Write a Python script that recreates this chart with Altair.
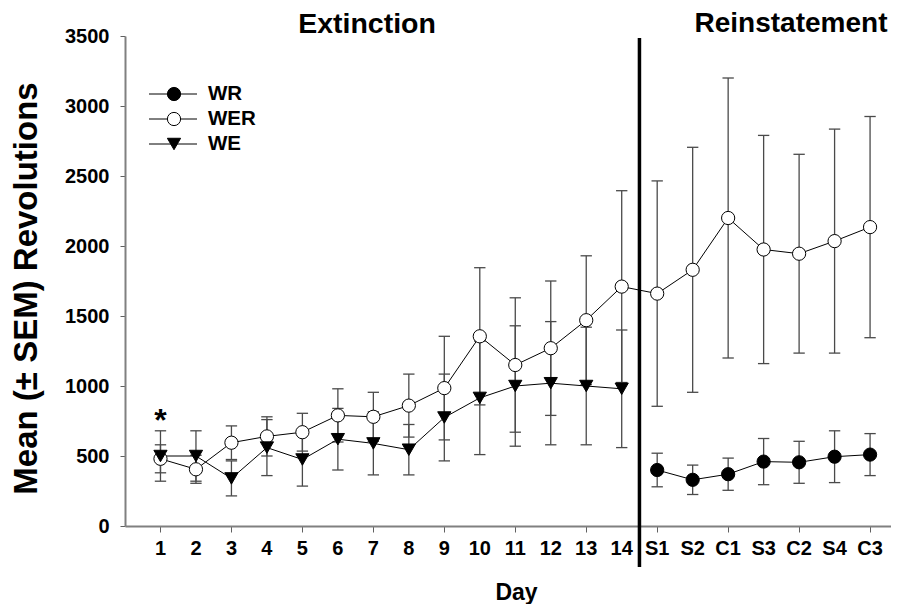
import altair as alt
import pandas as pd

# ---- data ----
labels = ['1', '2', '3', '4', '5', '6', '7', '8', '9', '10', '11', '12', '13', '14',
          'S1', 'S2', 'C1', 'S3', 'C2', 'S4', 'C3']
wer_mean = [480, 405, 595, 640, 670, 790, 780, 860, 985, 1355, 1150, 1270, 1470, 1710,
            1660, 1830, 2200, 1975, 1945, 2035, 2135]
wer_sem = [100, 100, 120, 140, 135, 190, 175, 225, 370, 490, 480, 480, 460, 685,
           805, 875, 1000, 815, 710, 800, 790]
we_mean = [500, 500, 340, 560, 475, 620, 590, 545, 775, 915, 1000, 1020, 1000, 980]
we_sem = [180, 180, 125, 200, 190, 220, 225, 180, 310, 405, 430, 440, 420, 420]
wr_mean = [400, 330, 370, 460, 455, 495, 510]
wr_sem = [120, 105, 115, 165, 150, 185, 150]
legend_names = ['WR', 'WER', 'WE']
groups = ['WR', 'WER', 'WE']
shapes = ['circle', 'circle', 'triangle-down']
fills = ['black', 'white', 'black']

rows = []
for i, lab in enumerate(labels):
    rows.append(dict(idx=i + 1, label=lab, group='WER', mean=wer_mean[i], sem=wer_sem[i]))
for i, m in enumerate(we_mean):
    rows.append(dict(idx=i + 1, label=labels[i], group='WE', mean=m, sem=we_sem[i]))
for i, m in enumerate(wr_mean):
    rows.append(dict(idx=15 + i, label=labels[14 + i], group='WR', mean=m, sem=wr_sem[i]))
df = pd.DataFrame(rows)
label_df = pd.DataFrame({'idx': list(range(1, len(labels) + 1)), 'label': labels})

FONT = 'Liberation Sans'
YTITLE = 'Mean (± SEM) Revolutions'
W, H = 766, 490

xscale = alt.Scale(domain=[-0.0, 21.59], nice=False, zero=False)
yscale = alt.Scale(domain=[0, 3500], nice=False)

x_axis = alt.Axis(values=list(range(1, 22)), labels=False,
                  grid=False, domainColor='#808080', domainWidth=2, tickColor='#606060',
                  tickSize=6,
                  titleFont=FONT, titleFontSize=23, titleFontWeight='bold',
                  titleColor='black', titleX=391, titleY=66, titleBaseline='middle')
y_axis = alt.Axis(values=list(range(0, 3501, 500)), format='d', grid=False,
                  domainColor='#808080', domainWidth=2, tickColor='#606060', tickSize=5,
                  labelFont=FONT, labelFontSize=20, labelFontWeight='bold',
                  labelColor='black', labelPadding=11, labelOverlap=False,
                  titleFont=FONT, titleFontSize=33, titleFontWeight='bold',
                  titleColor='black', titleAngle=-90, titleX=-99, titleY=H / 2 + 7,
                  titleAlign='center', titleBaseline='middle')

X = alt.X('idx:Q', scale=xscale, axis=x_axis, title='Day')

def Yq(field):
    return alt.Y(field, scale=yscale, axis=y_axis, title=YTITLE)

base = alt.Chart(df).transform_calculate(
    lo='datum.mean - datum.sem', hi='datum.mean + datum.sem',
    xl='datum.idx - 0.16', xr='datum.idx + 0.16')

err = base.mark_rule(color='#4a4a4a', strokeWidth=1.3).encode(
    x=X, y=Yq('lo:Q'), y2='hi:Q')

caps = base.transform_fold(['lo', 'hi'], as_=['end', 'val']).mark_rule(
    color='#4a4a4a', strokeWidth=1.3).encode(
    x=alt.X('xl:Q', scale=xscale, axis=x_axis, title='Day'), x2='xr:Q',
    y=Yq('val:Q'))

lines = alt.Chart(df).mark_line(color='black', strokeWidth=1).encode(
    x=X, y=Yq('mean:Q'), detail='group:N', order='idx:Q')

pts = alt.Chart(df).mark_point(filled=True, size=175, stroke='black', strokeWidth=1,
                               opacity=1).encode(
    x=X, y=Yq('mean:Q'),
    shape=alt.Shape('group:N', scale=alt.Scale(domain=groups, range=shapes), legend=None),
    fill=alt.Fill('group:N', scale=alt.Scale(domain=groups, range=fills), legend=None))

xlabels = alt.Chart(label_df).mark_text(
    font=FONT, fontSize=20, fontWeight='bold', baseline='middle', align='center',
    color='black').encode(x=X, y=alt.value(H + 23), text='label:N')

one = pd.DataFrame({'a': [0]})

vline = alt.Chart(one).mark_rule(color='black', strokeWidth=3.5).encode(
    x=alt.datum(14.5), y=alt.value(2), y2=alt.value(531))

star = alt.Chart(one).mark_text(text='*', font=FONT, fontSize=32, fontWeight='bold',
                                baseline='alphabetic', color='black').encode(
    x=alt.datum(1), y=alt.datum(680))

t1 = alt.Chart(one).mark_text(text='Extinction', font=FONT, fontSize=28.5,
                              fontWeight='bold', baseline='middle', align='center',
                              color='black').encode(x=alt.value(242), y=alt.value(-12))
t2 = alt.Chart(one).mark_text(text='Reinstatement', font=FONT, fontSize=28,
                              fontWeight='bold', baseline='middle', align='center',
                              color='black').encode(x=alt.value(666), y=alt.value(-12))

leg_layers = []
for i, name in enumerate(legend_names):
    yy = 58 + 25 * i
    gi = groups.index(name)
    leg_layers.append(alt.Chart(one).mark_rule(color='black', strokeWidth=1).encode(
        x=alt.value(24), x2=alt.value(72), y=alt.value(yy)))
    leg_layers.append(alt.Chart(one).mark_point(
        shape=shapes[gi], filled=True, fill=fills[gi], stroke='black', strokeWidth=1,
        size=175, opacity=1).encode(x=alt.value(49), y=alt.value(yy)))
    leg_layers.append(alt.Chart(one).mark_text(
        text=name, font=FONT, fontSize=20.5, fontWeight='bold', align='left',
        baseline='middle', color='black').encode(x=alt.value(83), y=alt.value(yy)))

chart = alt.layer(err, caps, lines, pts, xlabels, vline, star, t1, t2,
                  *leg_layers).properties(
    width=W, height=H,
    autosize=alt.AutoSizeParams(type='none'),
    padding={'left': 117, 'top': 28, 'right': 0, 'bottom': 78},
).configure_view(stroke=None)

chart.save('out.html', embed_options={'renderer': 'svg', 'actions': False})
